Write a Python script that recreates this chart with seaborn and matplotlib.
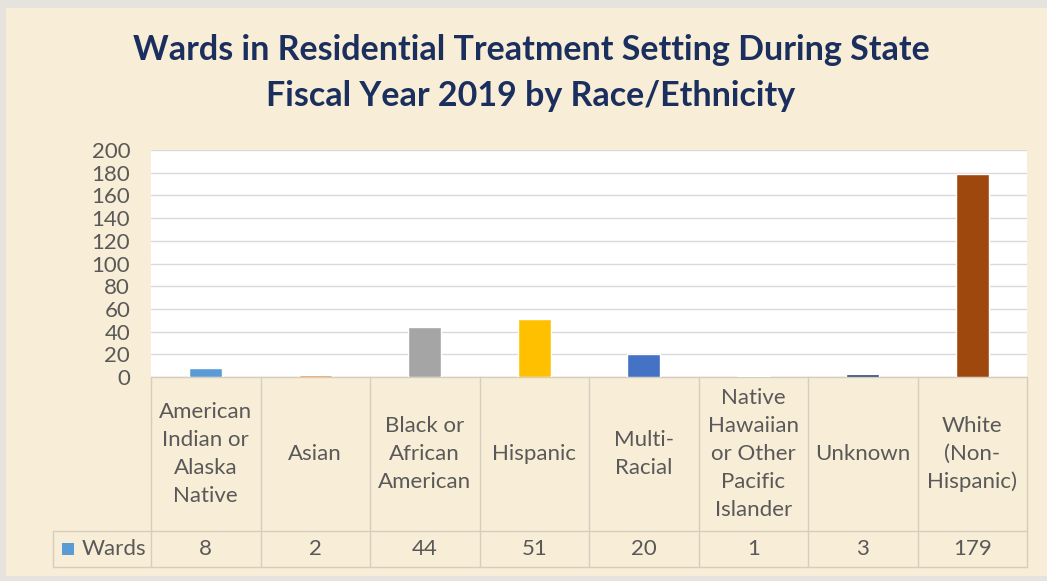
import matplotlib
matplotlib.use("Agg")
import matplotlib.pyplot as plt
import matplotlib.transforms as mtransforms
from matplotlib.patches import Rectangle
import seaborn as sns

categories = [
    "American\nIndian or\nAlaska\nNative",
    "Asian",
    "Black or\nAfrican\nAmerican",
    "Hispanic",
    "Multi-\nRacial",
    "Native\nHawaiian\nor Other\nPacific\nIslander",
    "Unknown",
    "White\n(Non-\nHispanic)",
]
wards = [8, 2, 44, 51, 20, 1, 3, 179]
bar_colors = ["#5B9BD5", "#ED7D31", "#A5A5A5", "#FFC000",
              "#4472C4", "#70AD47", "#264478", "#9E480E"]
yticks = [0, 20, 40, 60, 80, 100, 120, 140, 160, 180, 200]

sns.set_theme(style="white")
plt.rcParams["font.family"] = ["Lato", "DejaVu Sans"]

W, H = 1047, 581
fig = plt.figure(figsize=(W / 100, H / 100), dpi=100, facecolor="#E6E3DE")
# parchment panel
fig.patches.append(Rectangle((6 / W, 1 - 576 / H), 1 - 6 / W, (576 - 8) / H,
                             transform=fig.transFigure, facecolor="#F8EDD6",
                             edgecolor="none", zorder=-5))

left, right, top, bottom = 151, 1027, 150, 377
ax = fig.add_axes([left / W, 1 - bottom / H, (right - left) / W, (bottom - top) / H])
ax.set_zorder(5)
ax.set_facecolor("white")

sns.barplot(x=list(range(len(wards))), y=wards, hue=list(range(len(wards))),
            palette=bar_colors, width=0.3, saturation=1, legend=False, ax=ax,
            zorder=3)

ax.set_xlim(-0.5, len(wards) - 0.5)
ax.set_ylim(0, 200)
ax.set_yticks(yticks)
ax.set_yticklabels([str(t) for t in yticks], fontsize=16, color="#595959")
ax.tick_params(axis="y", length=0, pad=15)
ax.set_xticks([])
ax.set_xlabel("")
ax.set_ylabel("")
ax.yaxis.grid(True, color="#D9D9D9", linewidth=1, zorder=0)
ax.set_axisbelow(True)
for s in ax.spines.values():
    s.set_visible(False)

# data table below the plot
trans = mtransforms.blended_transform_factory(ax.transData, ax.transAxes)
ph = bottom - top
y_mid = -(531 - bottom) / ph
y_bot = -(567 - bottom) / ph
line_kw = dict(color="#D6CDBD", linewidth=1, clip_on=False, transform=trans, zorder=1)
n = len(wards)
ax.plot([-0.5, n - 0.5], [0, 0], **line_kw)
x_key = -0.5 - (151 - 53) / 109.5
ax.plot([x_key, n - 0.5], [y_mid, y_mid], **line_kw)
ax.plot([x_key, n - 0.5], [y_bot, y_bot], **line_kw)
ax.plot([x_key, x_key], [y_mid, y_bot], **line_kw)
for i in range(n + 1):
    ax.plot([i - 0.5, i - 0.5], [0, y_bot], **line_kw)

for i, (cat, v) in enumerate(zip(categories, wards)):
    ax.text(i, y_mid / 2, cat, ha="center", va="center", fontsize=16,
            color="#595959", linespacing=1.5, transform=trans, clip_on=False)
    ax.text(i, (y_mid + y_bot) / 2, str(v), ha="center", va="center",
            fontsize=16, color="#595959", transform=trans, clip_on=False)

ax.add_patch(Rectangle((x_key + 0.08, (y_mid + y_bot) / 2 - 0.027), 0.11, 0.054,
                       facecolor=bar_colors[0], edgecolor="none",
                       transform=trans, clip_on=False))
ax.text(x_key + 0.26, (y_mid + y_bot) / 2, "Wards", ha="left", va="center",
        fontsize=16, color="#595959", transform=trans, clip_on=False)

fig.text(531 / W, 1 - 50 / H, "Wards in Residential Treatment Setting During State",
         ha="center", va="center", fontsize=24.5, fontweight="bold", color="#1B2F5E")
fig.text(531 / W, 1 - 96 / H, "Fiscal Year 2019 by Race/Ethnicity",
         ha="center", va="center", fontsize=24.5, fontweight="bold", color="#1B2F5E")

fig.savefig("out.png", dpi=100, facecolor=fig.get_facecolor())
